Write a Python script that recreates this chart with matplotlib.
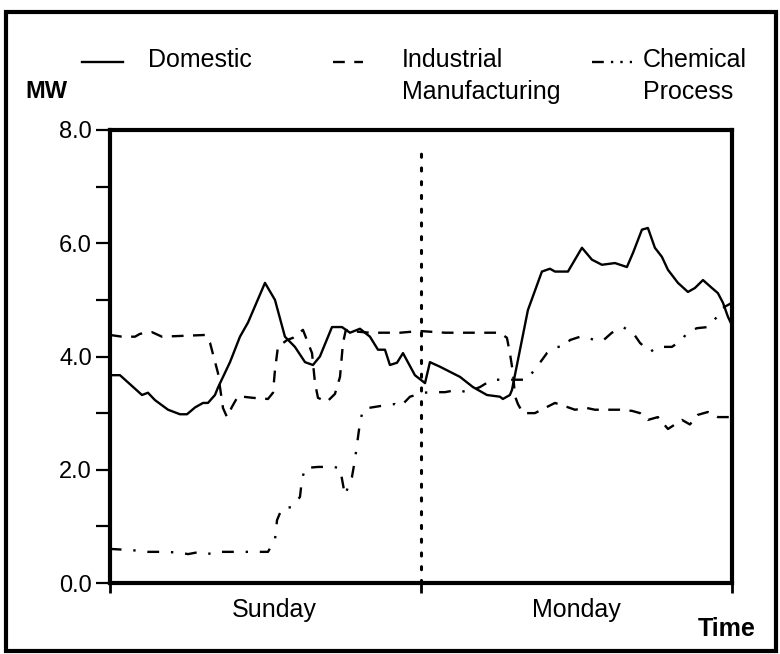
import matplotlib
matplotlib.use("Agg")
import matplotlib.pyplot as plt
from matplotlib.lines import Line2D
from matplotlib.patches import Rectangle

plt.rcParams['font.family'] = ['Liberation Sans', 'DejaVu Sans']

# hours from start of Sunday, MW
dom_h = [0.15, 0.77, 2.47, 2.93, 3.47, 4.48, 5.40, 5.94, 6.56, 7.18, 7.56, 8.10, 8.33,
         9.26, 10.03, 10.65, 11.96, 12.73, 13.50, 14.27, 15.05, 15.66, 16.20, 17.13,
         17.90, 18.52, 19.29, 20.06, 20.68, 21.22, 21.60, 22.15, 22.61, 23.53, 24.31,
         24.69, 25.46, 27.01, 28.01, 29.09, 30.09, 30.32, 30.86, 31.02, 31.64, 32.25,
         33.33, 33.95, 34.34, 35.34, 36.42, 37.19, 37.96, 38.97, 39.89, 40.36, 41.05,
         41.51, 42.05, 42.59, 43.06, 43.83, 44.60, 45.14, 45.76, 46.45, 46.91, 47.30,
         47.69, 48.0]
dom_mw = [3.67, 3.67, 3.32, 3.36, 3.23, 3.06, 2.98, 2.98, 3.10, 3.18, 3.18, 3.32, 3.45,
          3.90, 4.35, 4.60, 5.30, 5.00, 4.35, 4.17, 3.90, 3.85, 4.00, 4.52,
          4.52, 4.42, 4.49, 4.35, 4.12, 4.12, 3.85, 3.89, 4.06, 3.67, 3.53,
          3.90, 3.82, 3.64, 3.46, 3.32, 3.29, 3.25, 3.32, 3.41, 4.12, 4.82,
          5.50, 5.55, 5.50, 5.50, 5.92, 5.71, 5.62, 5.65, 5.58, 5.83, 6.24,
          6.27, 5.92, 5.76, 5.53, 5.30, 5.14, 5.21, 5.35, 5.21, 5.12, 4.95,
          4.70, 4.55]

ind_h = [0.0, 0.93, 1.93, 2.31, 3.24, 4.01, 7.33, 7.72, 8.33, 8.72, 9.03, 9.41, 9.88,
         11.03, 12.19, 12.58, 12.73, 12.96, 13.66, 14.12, 14.89, 15.28, 15.59, 15.82,
         16.05, 16.74, 17.36, 17.75, 17.98, 18.2, 18.52, 20.06, 22.38, 23.92, 25.85,
         28.16, 30.09, 30.63, 30.86, 31.10, 31.25, 31.48, 31.87, 32.79, 33.56, 34.34,
         35.26, 35.88, 36.81, 37.42, 38.43, 39.35, 40.28, 40.90, 41.51, 42.28, 43.06,
         44.14, 44.75, 45.37, 46.14, 46.91, 48.0]
ind_mw = [4.38, 4.35, 4.35, 4.40, 4.43, 4.35, 4.38, 4.24, 3.71, 3.09, 2.93, 3.11, 3.30,
          3.27, 3.25, 3.36, 3.76, 4.17, 4.29, 4.33, 4.47, 4.24, 4.06, 3.53,
          3.27, 3.20, 3.34, 3.64, 4.24, 4.47, 4.45, 4.42, 4.42, 4.45, 4.42,
          4.42, 4.42, 4.33, 4.06, 3.71, 3.30, 3.16, 3.00, 3.00, 3.09, 3.18,
          3.11, 3.06, 3.09, 3.06, 3.06, 3.06, 3.04, 3.00, 2.88, 2.93, 2.72,
          2.88, 2.80, 2.97, 3.02, 2.93, 2.93]

chem_h = [0.0, 0.15, 1.70, 2.93, 4.40, 5.56, 6.02, 6.94, 7.87, 8.49, 9.49, 10.65, 12.19,
          12.73, 12.89, 13.27, 14.04, 14.66, 14.81, 15.05, 16.05, 17.21, 17.75, 18.13,
          18.67, 18.90, 19.14, 19.29, 19.52, 19.91, 20.99, 21.99, 22.38, 23.15, 24.15,
          24.92, 25.85, 26.77, 27.55, 28.55, 29.48, 30.25, 31.10, 32.18, 32.64, 33.18,
          33.72, 34.49, 35.11, 35.49, 36.42, 37.42, 38.04, 38.73, 39.58, 40.36, 40.90,
          41.67, 42.28, 43.36, 44.14, 44.52, 45.29, 46.14, 46.84, 47.30, 48.0]
chem_mw = [0.62, 0.60, 0.58, 0.55, 0.55, 0.53, 0.51, 0.55, 0.51, 0.55, 0.55, 0.55, 0.55,
           0.76, 1.11, 1.32, 1.34, 1.52, 1.82, 2.03, 2.05, 2.05, 2.03, 1.55,
           1.87, 2.17, 2.58, 2.83, 3.06, 3.09, 3.13, 3.16, 3.11, 3.29, 3.36,
           3.37, 3.37, 3.41, 3.37, 3.46, 3.59, 3.59, 3.59, 3.59, 3.73, 3.89,
           4.06, 4.17, 4.17, 4.29, 4.36, 4.29, 4.28, 4.42, 4.52, 4.42, 4.24,
           4.08, 4.17, 4.17, 4.29, 4.42, 4.50, 4.52, 4.70, 4.86, 4.95]

day_labels = ['Sunday', 'Monday']
day_pos = [12.7, 36.0]
y_ticks = [0, 2, 4, 6, 8]

W, H = 780, 654
fig = plt.figure(figsize=(W / 100, H / 100), dpi=100)
ax = fig.add_axes([110 / W, 1 - 583 / H, 622 / W, 453 / H])

lw = 1.7
ax.plot(dom_h, dom_mw, color='black', lw=lw, solid_joinstyle='round')
ax.plot(ind_h, ind_mw, color='black', lw=lw, ls=(0, (5, 4)))
ax.plot(chem_h, chem_mw, color='black', lw=lw, ls=(0, (5, 5, 1, 5)))
ax.plot([24, 24], [0, 7.75], color='black', lw=2.2, ls=(0, (1, 3.5)), dash_capstyle='round')

ax.set_xlim(0, 48)
ax.set_ylim(0, 8)
for s in ax.spines.values():
    s.set_linewidth(3)

ax.set_yticks(range(9))
ax.set_yticklabels(['%.1f' % v if v in y_ticks else '' for v in range(9)])
ax.tick_params(axis='y', length=10, width=1.6, pad=3, labelsize=17)
ax.set_xticks([0, 24, 48])
ax.set_xticklabels(['', '', ''])
ax.tick_params(axis='x', which='major', length=7, width=2, labelsize=17)
ax.set_xticks(day_pos, minor=True)
ax.set_xticklabels(day_labels, minor=True)
ax.tick_params(axis='x', which='minor', length=0, pad=11, labelsize=18)

# legend drawn by hand
ty = 1 - 60 / H
fs = 18
fig.add_artist(Line2D([82 / W, 123 / W], [1 - 62 / H] * 2, color='black', lw=1.7))
fig.text(148 / W, ty, 'Domestic', fontsize=fs, va='center')
fig.add_artist(Line2D([333 / W, 363 / W], [1 - 62 / H] * 2, color='black', lw=1.7,
                      ls=(0, (5, 4))))
fig.text(402 / W, ty, 'Industrial', fontsize=fs, va='center')
fig.text(402 / W, 1 - 92 / H, 'Manufacturing', fontsize=fs, va='center')
fig.add_artist(Line2D([592 / W, 632 / W], [1 - 62 / H] * 2, color='black', lw=1.7,
                      ls=(0, (5, 3, 1, 3, 1, 3))))
fig.text(643 / W, ty, 'Chemical', fontsize=fs, va='center')
fig.text(643 / W, 1 - 92 / H, 'Process', fontsize=fs, va='center')

fig.text(25 / W, 1 - 92 / H, 'MW', fontsize=17, fontweight='bold', va='center')
fig.text(756 / W, 1 - 629 / H, 'Time', fontsize=18, fontweight='bold', va='center', ha='right')

fig.add_artist(Rectangle((6 / W, 3 / H), 770 / W, 639 / H, transform=fig.transFigure,
                         fill=False, lw=3, edgecolor='black'))

fig.savefig('out.png', dpi=100)
